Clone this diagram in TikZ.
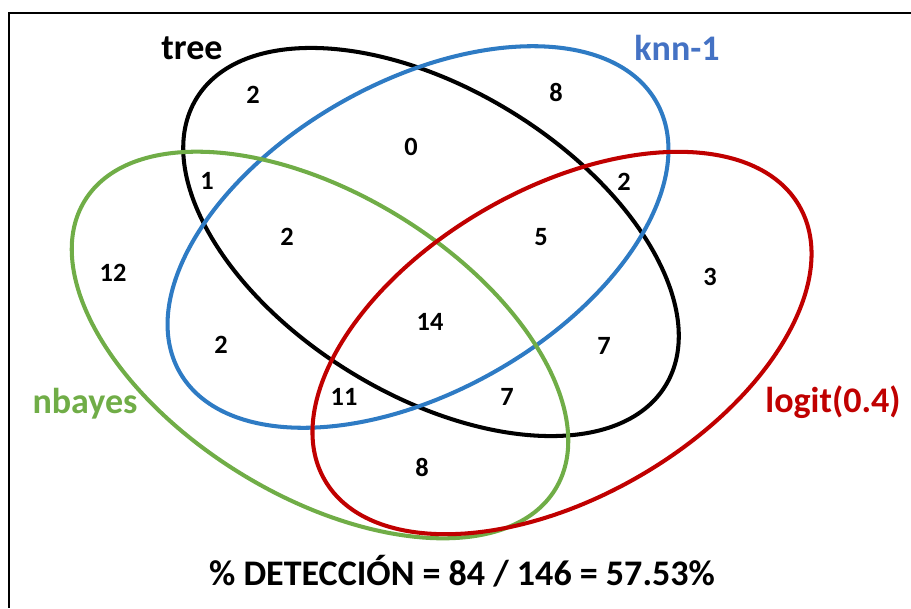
\documentclass[tikz,border=0pt]{standalone}
\usepackage{fontspec}
\setmainfont{Carlito}
\usepackage{xcolor}
\usetikzlibrary{positioning}
\definecolor{treeblk}{HTML}{000000}
\definecolor{knnblue}{HTML}{2E7BC4}
\definecolor{knntext}{HTML}{4472C4}
\definecolor{nbgreen}{HTML}{70AD47}
\definecolor{lgred}{HTML}{C00000}

\begin{document}
\begin{tikzpicture}[
    x=0.02cm, y=-0.02cm,
    every node/.style={font=\bfseries},
    num/.style={font=\bfseries\fontsize{15}{18}\selectfont},
    setname/.style={font=\bfseries\fontsize{20.5}{24}\selectfont},
    setline/.style={line width=2.3pt},
    frame/.style={line width=1.2pt}
]
\useasboundingbox (0,0) rectangle (911,608);

% Frame
\draw[frame] (911,13) -- (9,13) -- (9,608);

% Sets
\draw[setline, treeblk, rotate around={-31.5:(431,242)}] (431,242) ellipse [x radius=275, y radius=153];
\draw[setline, knnblue, rotate around={29.5:(418,237)}] (418,237) ellipse [x radius=274, y radius=155];
\draw[setline, nbgreen, rotate around={-31.5:(320,345)}] (320,345) ellipse [x radius=276, y radius=151];
\draw[setline, lgred, rotate around={30:(562,343)}] (562,343) ellipse [x radius=274, y radius=154];

% Set names
\node[setname, text=treeblk] (tree) at (192,48) {tree};
\node[setname, text=knntext] (knn) at (677,48) {knn-1};
\node[setname, text=nbgreen] (nbayes) at (85,404) {nbayes};
\node[setname, text=lgred] (logit) at (833,402) {logit(0.4)};

% Region counts
\node[num] (rT) at (253,95) {2};
\node[num] (rTK) at (411,147) {0};
\node[num] (rK) at (556,92) {8};
\node[num] (rTN) at (207,181) {1};
\node[num] (rTKN) at (287,237) {2};
\node[num] (rKL) at (624,182) {2};
\node[num] (rTKL) at (541,237) {5};
\node[num] (rN) at (113,273) {12};
\node[num] (rL) at (710,277) {3};
\node[num] (rTKNL) at (430,322) {14};
\node[num] (rKN) at (221,345) {2};
\node[num] (rTL) at (604,346) {7};
\node[num] (rKNL) at (344,397) {11};
\node[num] (rTNL) at (507,397) {7};
\node[num] (rNL) at (422,467) {8};

% Detection rate
\node[setname] (rate) at (462,571) {\% DETECCIÓN = 84 / 146 = 57.53\%};
\end{tikzpicture}
\end{document}
